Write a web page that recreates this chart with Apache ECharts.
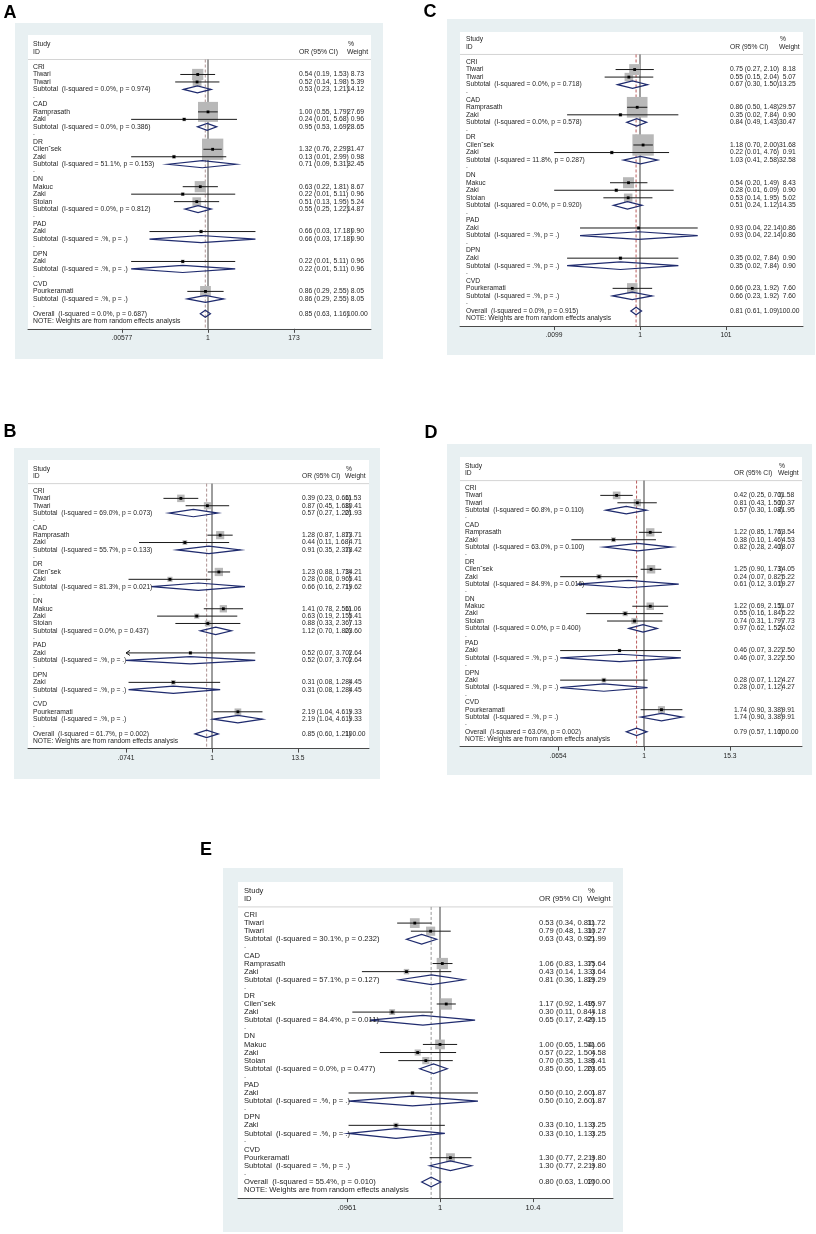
<!DOCTYPE html>
<html>
<head>
<meta charset="utf-8">
<script src="https://cdn.jsdelivr.net/npm/echarts@6/dist/echarts.min.js"></script>
<style>
html, body { margin: 0; padding: 0; background: #fff; }
#main { width: 816px; height: 1234px; }
</style>
</head>
<body>
<div id="main"></div>
<script>
// subgroups and studies, same rows in every panel
var groupNames = ['CRI', 'CAD', 'DR', 'DN', 'PAD', 'DPN', 'CVD'];
var studyNames = ['Tiwari', 'Tiwari', 'Ramprasath', 'Zaki', 'Cilen\u02c7sek', 'Zaki', 'Makuc', 'Zaki', 'Stoian', 'Zaki', 'Zaki', 'Pourkeramati'];
var studyGroup = [0, 0, 1, 1, 2, 2, 3, 3, 3, 4, 5, 6];

// panel A
var orA = [0.54, 0.52, 1.00, 0.24, 1.32, 0.13, 0.63, 0.22, 0.51, 0.66, 0.22, 0.86];
var loA = [0.19, 0.14, 0.55, 0.01, 0.76, 0.01, 0.22, 0.01, 0.13, 0.03, 0.01, 0.29];
var hiA = [1.53, 1.98, 1.79, 5.68, 2.29, 2.99, 1.81, 5.11, 1.95, 17.18, 5.11, 2.55];
var wA = [8.73, 5.39, 27.69, 0.96, 31.47, 0.98, 8.67, 0.96, 5.24, 0.90, 0.96, 8.05];
var subOrA = [0.53, 0.95, 0.71, 0.55, 0.66, 0.22, 0.86];
var subLoA = [0.23, 0.53, 0.09, 0.25, 0.03, 0.01, 0.29];
var subHiA = [1.21, 1.69, 5.31, 1.22, 17.18, 5.11, 2.55];
var subWA = [14.12, 28.65, 32.45, 14.87, 0.90, 0.96, 8.05];
var i2A = ['0.0%', '0.0%', '51.1%', '0.0%', '.%', '.%', '.%'];
var pA = ['0.974', '0.386', '0.153', '0.812', '.', '.', '.'];
var ovA = [0.85, 0.63, 1.16];
var ovStatA = ['0.0%', '0.687'];
var tickLabA = ['.00577', '1', '173'];
var tickValA = [0.00577, 1, 173];

// panel B
var orB = [0.39, 0.87, 1.28, 0.44, 1.23, 0.28, 1.41, 0.63, 0.88, 0.52, 0.31, 2.19];
var loB = [0.23, 0.45, 0.87, 0.11, 0.88, 0.08, 0.78, 0.19, 0.33, 0.07, 0.08, 1.04];
var hiB = [0.66, 1.68, 1.87, 1.68, 1.73, 0.96, 2.56, 2.15, 2.36, 3.70, 1.28, 4.61];
var wB = [11.53, 10.41, 13.71, 4.71, 14.21, 5.41, 11.06, 5.41, 7.13, 2.64, 4.45, 9.33];
var subOrB = [0.57, 0.91, 0.66, 1.12, 0.52, 0.31, 2.19];
var subLoB = [0.27, 0.35, 0.16, 0.70, 0.07, 0.08, 1.04];
var subHiB = [1.20, 2.37, 2.71, 1.80, 3.70, 1.28, 4.61];
var subWB = [21.93, 18.42, 19.62, 23.60, 2.64, 4.45, 9.33];
var i2B = ['69.0%', '55.7%', '81.3%', '0.0%', '.%', '.%', '.%'];
var pB = ['0.073', '0.133', '0.021', '0.437', '.', '.', '.'];
var ovB = [0.85, 0.60, 1.21];
var ovStatB = ['61.7%', '0.002'];
var tickLabB = ['.0741', '1', '13.5'];
var tickValB = [0.0741, 1, 13.5];

// panel C
var orC = [0.75, 0.55, 0.86, 0.35, 1.18, 0.22, 0.54, 0.28, 0.53, 0.93, 0.35, 0.66];
var loC = [0.27, 0.15, 0.50, 0.02, 0.70, 0.01, 0.20, 0.01, 0.14, 0.04, 0.02, 0.23];
var hiC = [2.10, 2.04, 1.48, 7.84, 2.00, 4.76, 1.49, 6.09, 1.95, 22.14, 7.84, 1.92];
var wC = [8.18, 5.07, 29.57, 0.90, 31.68, 0.91, 8.43, 0.90, 5.02, 0.86, 0.90, 7.60];
var subOrC = [0.67, 0.84, 1.03, 0.51, 0.93, 0.35, 0.66];
var subLoC = [0.30, 0.49, 0.41, 0.24, 0.04, 0.02, 0.23];
var subHiC = [1.50, 1.43, 2.58, 1.12, 22.14, 7.84, 1.92];
var subWC = [13.25, 30.47, 32.58, 14.35, 0.86, 0.90, 7.60];
var i2C = ['0.0%', '0.0%', '11.8%', '0.0%', '.%', '.%', '.%'];
var pC = ['0.718', '0.578', '0.287', '0.920', '.', '.', '.'];
var ovC = [0.81, 0.61, 1.09];
var ovStatC = ['0.0%', '0.915'];
var tickLabC = ['.0099', '1', '101'];
var tickValC = [0.0099, 1, 101];

// panel D
var orD = [0.42, 0.81, 1.22, 0.38, 1.25, 0.24, 1.22, 0.55, 0.74, 0.46, 0.28, 1.74];
var loD = [0.25, 0.43, 0.85, 0.10, 0.90, 0.07, 0.69, 0.16, 0.31, 0.07, 0.07, 0.90];
var hiD = [0.70, 1.50, 1.76, 1.46, 1.73, 0.82, 2.15, 1.84, 1.79, 3.22, 1.12, 3.38];
var wD = [11.58, 10.37, 13.54, 4.53, 14.05, 5.22, 11.07, 5.22, 7.73, 2.50, 4.27, 9.91];
var subOrD = [0.57, 0.82, 0.61, 0.97, 0.46, 0.28, 1.74];
var subLoD = [0.30, 0.28, 0.12, 0.62, 0.07, 0.07, 0.90];
var subHiD = [1.08, 2.40, 3.01, 1.52, 3.22, 1.12, 3.38];
var subWD = [21.95, 18.07, 19.27, 24.02, 2.50, 4.27, 9.91];
var i2D = ['60.8%', '63.0%', '84.9%', '0.0%', '.%', '.%', '.%'];
var pD = ['0.110', '0.100', '0.016', '0.400', '.', '.', '.'];
var ovD = [0.79, 0.57, 1.10];
var ovStatD = ['63.0%', '0.002'];
var tickLabD = ['.0654', '1', '15.3'];
var tickValD = [0.0654, 1, 15.3];

// panel E
var orE = [0.53, 0.79, 1.06, 0.43, 1.17, 0.30, 1.00, 0.57, 0.70, 0.50, 0.33, 1.30];
var loE = [0.34, 0.48, 0.83, 0.14, 0.92, 0.11, 0.65, 0.22, 0.35, 0.10, 0.10, 0.77];
var hiE = [0.81, 1.31, 1.37, 1.33, 1.49, 0.84, 1.54, 1.50, 1.38, 2.60, 1.13, 2.21];
var wE = [11.72, 10.27, 15.64, 3.64, 15.97, 4.18, 11.66, 4.58, 6.41, 1.87, 3.25, 9.80];
var subOrE = [0.63, 0.81, 0.65, 0.85, 0.50, 0.33, 1.30];
var subLoE = [0.43, 0.36, 0.17, 0.60, 0.10, 0.10, 0.77];
var subHiE = [0.92, 1.82, 2.42, 1.20, 2.60, 1.13, 2.21];
var subWE = [21.99, 19.29, 20.15, 23.65, 1.87, 3.25, 9.80];
var i2E = ['30.1%', '57.1%', '84.4%', '0.0%', '.%', '.%', '.%'];
var pE = ['0.232', '0.127', '0.011', '0.477', '.', '.', '.'];
var ovE = [0.80, 0.63, 1.02];
var ovStatE = ['55.4%', '0.010'];
var tickLabE = ['.0961', '1', '10.4'];
var tickValE = [0.0961, 1, 10.4];

var FONT = "'Liberation Sans', Arial, sans-serif";

// page layout of each panel (pixels)
var panels = [
	{ tag: 'A', lab: [10, 13], box: [15, 23, 383, 359], white: [28, 35, 371], row0: 67, step: 7.48, one: 208, half: 86,
	  colName: 33, colCI: 299, colW: 347, font: 6.8, boxK: 3.8, dia: 0.47, dash: '#a48484',
	  or: orA, lo: loA, hi: hiA, w: wA, subOr: subOrA, subLo: subLoA, subHi: subHiA, subW: subWA, i2: i2A, p: pA, ov: ovA, ovStat: ovStatA, tickLab: tickLabA, tickVal: tickValA },
	{ tag: 'B', lab: [10, 432], box: [14, 448, 380, 779], white: [28, 460, 369], row0: 491, step: 7.36, one: 212, half: 86,
	  colName: 33, colCI: 302, colW: 345, font: 6.7, boxK: 2.2, dia: 0.5, dash: '#a48484',
	  or: orB, lo: loB, hi: hiB, w: wB, subOr: subOrB, subLo: subLoB, subHi: subHiB, subW: subWB, i2: i2B, p: pB, ov: ovB, ovStat: ovStatB, tickLab: tickLabB, tickVal: tickValB },
	{ tag: 'C', lab: [430, 12], box: [447, 19, 815, 355], white: [460, 32, 803], row0: 62, step: 7.545, one: 640, half: 86,
	  colName: 466, colCI: 730, colW: 779, font: 6.7, boxK: 3.8, dia: 0.5, dash: '#b24a4a',
	  or: orC, lo: loC, hi: hiC, w: wC, subOr: subOrC, subLo: subLoC, subHi: subHiC, subW: subWC, i2: i2C, p: pC, ov: ovC, ovStat: ovStatC, tickLab: tickLabC, tickVal: tickValC },
	{ tag: 'D', lab: [431, 433], box: [447, 444, 812, 775], white: [460, 457, 802], row0: 488, step: 7.39, one: 644, half: 86,
	  colName: 465, colCI: 734, colW: 778, font: 6.7, boxK: 2.25, dia: 0.5, dash: '#b24a4a',
	  or: orD, lo: loD, hi: hiD, w: wD, subOr: subOrD, subLo: subLoD, subHi: subHiD, subW: subWD, i2: i2D, p: pD, ov: ovD, ovStat: ovStatD, tickLab: tickLabD, tickVal: tickValD },
	{ tag: 'E', lab: [206, 850], box: [223, 868, 623, 1232], white: [238, 882, 613], row0: 915, step: 8.09, one: 440, half: 93,
	  colName: 244, colCI: 539, colW: 587, font: 7.6, boxK: 2.85, dia: 0.6, dash: '#8c8c8c',
	  or: orE, lo: loE, hi: hiE, w: wE, subOr: subOrE, subLo: subLoE, subHi: subHiE, subW: subWE, i2: i2E, p: pE, ov: ovE, ovStat: ovStatE, tickLab: tickLabE, tickVal: tickValE }
];

function ciText(o, l, h) {
	return o.toFixed(2) + ' (' + l.toFixed(2) + ', ' + h.toFixed(2) + ')';
}
function wText(w) {
	var s = w.toFixed(2);
	if (s.length < 5) {
		s = '\u2007' + s; // pad like a fixed width column
	}
	return s;
}

var option = {
	animation: false,
	grid: [],
	xAxis: [],
	yAxis: [],
	series: [],
	graphic: { elements: [] }
};

function buildPanel(P, idx) {
	var s = P.half / Math.log(P.tickVal[2]); // px per ln unit
	var xMin = (P.white[0] - P.one) / s;
	var xMax = (P.white[2] - P.one) / s;
	var yMin = -(P.row0 - P.white[1]) / P.step;
	var yMax = 35;
	var lnTicks = P.tickVal.map(function(v) { return Math.log(v); });
	var lnLo = lnTicks[0], lnHi = lnTicks[2];
	function col(px) { return (px - P.one) / s; }

	// outer light box and panel letter
	option.graphic.elements.push({
		type: 'rect', z: -10, silent: true,
		shape: { x: P.box[0], y: P.box[1], width: P.box[2] - P.box[0], height: P.box[3] - P.box[1] },
		style: { fill: '#e8f0f2' }
	});
	option.graphic.elements.push({
		type: 'text', x: P.lab[0], y: P.lab[1], silent: true,
		style: { text: P.tag, fontSize: 18, fontWeight: 'bold', fontFamily: 'Arial, sans-serif', fill: '#000', align: 'center', verticalAlign: 'middle' }
	});

	option.grid.push({
		left: P.white[0], top: P.white[1], width: P.white[2] - P.white[0], height: (yMax - yMin) * P.step,
		show: true, backgroundColor: '#fff', borderWidth: 0
	});
	option.xAxis.push({
		gridIndex: idx, type: 'value', min: xMin, max: xMax,
		splitLine: { show: false },
		axisLine: { show: true, onZero: false, lineStyle: { color: '#4a4a4a', width: 1 } },
		axisTick: { show: true, customValues: lnTicks, length: 4, lineStyle: { color: '#4a4a4a' } },
		axisLabel: {
			customValues: lnTicks, margin: 6, fontSize: P.font, fontFamily: FONT, color: '#222',
			formatter: function(v) {
				for (var i = 0; i < lnTicks.length; i++) {
					if (Math.abs(lnTicks[i] - v) < 1e-6) return P.tickLab[i];
				}
				return '';
			}
		}
	});
	option.yAxis.push({ gridIndex: idx, type: 'value', inverse: true, min: yMin, max: yMax, show: false });

	// rows
	var texts = [];
	var studies = [];
	var diamonds = [];
	function addText(px, row, text, align) {
		texts.push({ x: col(px), y: row, text: text, align: align || 'left' });
	}
	addText(P.colName, -3, 'Study');
	addText(P.colName, -2, 'ID');
	addText(P.colCI, -2, 'OR (95% CI)');
	addText(P.colW + 1, -3, '%');
	addText(P.colW, -2, 'Weight');

	var r = 0;
	for (var g = 0; g < groupNames.length; g++) {
		addText(P.colName, r, groupNames[g]);
		r++;
		for (var k = 0; k < studyNames.length; k++) {
			if (studyGroup[k] != g) continue;
			addText(P.colName, r, studyNames[k]);
			addText(P.colCI, r, ciText(P.or[k], P.lo[k], P.hi[k]));
			addText(P.colW, r, wText(P.w[k]));
			studies.push([Math.log(P.or[k]), r, Math.log(P.lo[k]), Math.log(P.hi[k]), P.w[k]]);
			r++;
		}
		addText(P.colName, r, 'Subtotal  (I-squared = ' + P.i2[g] + ', p = ' + P.p[g] + ')');
		addText(P.colCI, r, ciText(P.subOr[g], P.subLo[g], P.subHi[g]));
		addText(P.colW, r, wText(P.subW[g]));
		diamonds.push([Math.log(P.subOr[g]), r, Math.log(P.subLo[g]), Math.log(P.subHi[g])]);
		r++;
		addText(P.colName, r - 0.15, '.');
		r++;
	}
	addText(P.colName, r, 'Overall  (I-squared = ' + P.ovStat[0] + ', p = ' + P.ovStat[1] + ')');
	addText(P.colCI, r, ciText(P.ov[0], P.ov[1], P.ov[2]));
	addText(P.colW, r, '100.00');
	diamonds.push([Math.log(P.ov[0]), r, Math.log(P.ov[1]), Math.log(P.ov[2])]);
	addText(P.colName, r + 1, 'NOTE: Weights are from random effects analysis');

	var base = { xAxisIndex: idx, yAxisIndex: idx, silent: true, animation: false };

	// header rule
	option.series.push(echarts.util.extend({
		type: 'line', symbol: 'none', data: [[xMin, -1], [xMax, -1]],
		lineStyle: { color: '#d4d4d4', width: 1 }, z: 1
	}, base));
	// no effect line
	option.series.push(echarts.util.extend({
		type: 'line', symbol: 'none', data: [[0, -1], [0, yMax]],
		lineStyle: { color: '#3c3c3c', width: 1 }, z: 2
	}, base));
	// overall effect line
	option.series.push(echarts.util.extend({
		type: 'line', symbol: 'none', data: [[Math.log(P.ov[0]), -1], [Math.log(P.ov[0]), yMax]],
		lineStyle: { color: P.dash, width: 0.9, type: [3, 2] }, z: 2
	}, base));

	// studies: box, CI line, point
	option.series.push(echarts.util.extend({
		type: 'custom', data: studies, z: 3,
		renderItem: function(params, api) {
			var y = api.value(1);
			var c = api.coord([api.value(0), y]);
			var l = Math.max(api.value(2), lnLo);
			var h = Math.min(api.value(3), lnHi);
			var p1 = api.coord([l, y]);
			var p2 = api.coord([h, y]);
			var side = P.boxK * Math.sqrt(api.value(4));
			var kids = [
				{ type: 'rect', shape: { x: c[0] - side / 2, y: c[1] - side / 2, width: side, height: side }, style: { fill: '#b8b8b8' } },
				{ type: 'line', shape: { x1: p1[0], y1: c[1], x2: p2[0], y2: c[1] }, style: { stroke: '#1a1a1a', lineWidth: 1 } },
				{ type: 'rect', shape: { x: c[0] - 1.4, y: c[1] - 1.4, width: 2.8, height: 2.8 }, style: { fill: '#000' } }
			];
			if (api.value(2) < lnLo) {
				kids.push({ type: 'polyline', shape: { points: [[p1[0] + 4, c[1] - 2.5], [p1[0], c[1]], [p1[0] + 4, c[1] + 2.5]] }, style: { stroke: '#1a1a1a', fill: 'none', lineWidth: 1 } });
			}
			if (api.value(3) > lnHi) {
				kids.push({ type: 'polyline', shape: { points: [[p2[0] - 4, c[1] - 2.5], [p2[0], c[1]], [p2[0] - 4, c[1] + 2.5]] }, style: { stroke: '#1a1a1a', fill: 'none', lineWidth: 1 } });
			}
			return { type: 'group', children: kids };
		}
	}, base));

	// pooled diamonds
	option.series.push(echarts.util.extend({
		type: 'custom', data: diamonds, z: 4,
		renderItem: function(params, api) {
			var y = api.value(1);
			var c = api.coord([api.value(0), y]);
			var l = api.coord([Math.max(api.value(2), lnLo), y]);
			var h = api.coord([Math.min(api.value(3), lnHi), y]);
			var dh = api.size([0, 1])[1] * P.dia;
			return {
				type: 'polygon',
				shape: { points: [[l[0], c[1]], [c[0], c[1] - dh], [h[0], c[1]], [c[0], c[1] + dh]] },
				style: { stroke: '#1f2b6e', fill: 'none', lineWidth: 1.2 }
			};
		}
	}, base));

	// text columns
	option.series.push(echarts.util.extend({
		type: 'custom', z: 5,
		data: texts.map(function(t) { return [t.x, t.y]; }),
		renderItem: function(params, api) {
			var t = texts[params.dataIndex];
			var pt = api.coord([api.value(0), api.value(1)]);
			return {
				type: 'text', x: pt[0], y: pt[1],
				style: { text: t.text, fontSize: P.font, fontFamily: FONT, fill: '#1e1e1e', align: t.align, verticalAlign: 'middle' }
			};
		}
	}, base));
}

for (var i = 0; i < panels.length; i++) {
	buildPanel(panels[i], i);
}

var myChart = echarts.init(document.getElementById('main'), null, { renderer: 'canvas' });
myChart.setOption(option);
</script>
</body>
</html>
